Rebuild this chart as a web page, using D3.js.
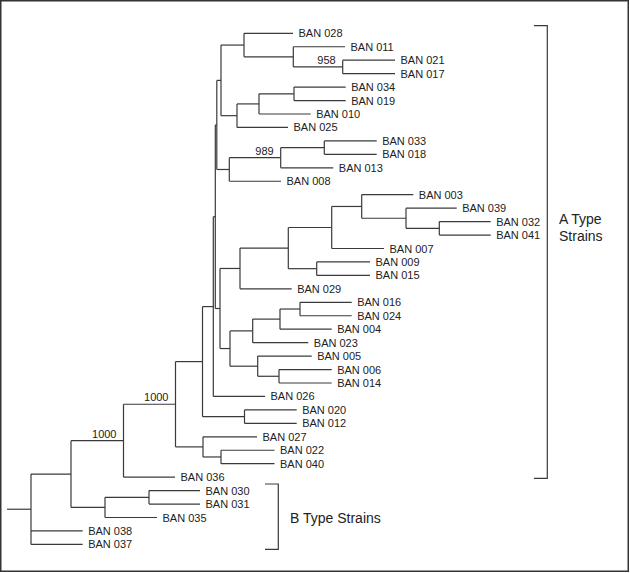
<!DOCTYPE html>
<html>
<head>
<meta charset="utf-8">
<script src="https://cdn.jsdelivr.net/npm/d3@7"></script>
<style>
  html, body { margin: 0; padding: 0; background: #fff; }
  svg { display: block; }
  text { font-family: "Liberation Sans", Arial, sans-serif; fill: #222; }
</style>
</head>
<body>
<svg id="chart" width="630" height="573"></svg>
<script>
// ---- Tree data (parent-link table, children listed in drawing order) ----
const nodeIds = [
  "root","AB","A","A2","P","Q","R","V","N1","N1a","BAN 028","N1a2","BAN 011","N958","BAN 021","BAN 017",
  "N1b","N1b1","N1b11","BAN 034","BAN 019","BAN 010","BAN 025",
  "W","N989","N33","BAN 033","BAN 018","BAN 013","BAN 008",
  "S","T","T1","T2","T2a","BAN 003","T2b","BAN 039","T2c","BAN 032","BAN 041","BAN 007",
  "T3","BAN 009","BAN 015","BAN 029",
  "U","U1","U1a","U1b","BAN 016","BAN 024","BAN 004","BAN 023",
  "U2","BAN 005","U2a","BAN 006","BAN 014",
  "BAN 026","N20","BAN 020","BAN 012",
  "N27","BAN 027","N22","BAN 022","BAN 040",
  "BAN 036","NB","NB1","BAN 030","BAN 031","BAN 035",
  "BAN 038","BAN 037"
];
const parentIds = [
  "","root","AB","A","A2","P","Q","R","V","N1","N1a","N1a","N1a2","N1a2","N958","N958",
  "N1","N1b","N1b1","N1b11","N1b11","N1b1","N1b",
  "V","W","N989","N33","N33","N989","W",
  "R","S","T","T1","T2","T2a","T2a","T2b","T2b","T2c","T2c","T2",
  "T1","T3","T3","T",
  "S","U","U1","U1a","U1b","U1b","U1a","U1",
  "U","U2","U2","U2a","U2a",
  "Q","P","N20","N20",
  "A2","N27","N27","N22","N22",
  "A","AB","NB","NB1","NB1","NB",
  "root","root"
];
const branchLengths = [
  0,40,52.5,52,27,10.8,2,1.5,4.2,23,49,49.3,51.7,49.4,52.3,52.3,
  16,22,35,51.7,51.7,51.7,51,
  12.5,51.4,43.6,52.4,52.4,52.6,51.7,
  4.7,20,48.3,43.4,30,51.6,44.3,50.7,33.3,51.4,51.4,52.3,
  28.4,53.3,53.3,51.7,
  10,22.7,27.3,20,51.7,51.7,51.7,55.6,
  27.7,54,21.3,52.7,52.7,
  51.7,42,52.2,52.2,
  27.5,54,18,53.5,53.5,
  51.5,34,44,51,51,52,
  51.7,51.7
];
const rootStem = 24;
// bootstrap support values
const bootstrapNodes  = ["A", "A2", "N958", "N989"];
const bootstrapValues = [1000, 1000, 958, 989];
// group brackets
const groupLabels = [["A Type", "Strains"], ["B Type Strains"]];
const groupFirstLeaf = ["BAN 028", "BAN 030"];
const groupLastLeaf  = ["BAN 036", "BAN 037"];

// ---- Build hierarchy ----
const table = nodeIds.map((id, i) => ({ id, parent: parentIds[i] || null, len: branchLengths[i] }));
const root = d3.stratify().id(d => d.id).parentId(d => d.parent)(table);

root.each(d => { d.dist = d.parent ? d.parent.dist + d.data.len : 0; });
const leaves = root.leaves();

const x = d3.scaleLinear().domain([0, 460]).range([31, 491]);
const y = d3.scaleLinear().domain([0, leaves.length - 1]).range([33.3, 544.4]);

leaves.forEach((l, i) => { l.py = y(i); });
root.eachAfter(d => {
  if (d.children) d.py = (d.children[0].py + d.children[d.children.length - 1].py) / 2;
});
root.each(d => { d.px = x(d.dist); });

const svg = d3.select("#chart");

// frame
svg.append("rect").attr("x", 0.75).attr("y", 0.75).attr("width", 627.5).attr("height", 570.5)
  .attr("fill", "none").attr("stroke", "#333").attr("stroke-width", 1.5);

const g = svg.append("g").attr("fill", "none").attr("stroke", "#3a3a3a").attr("stroke-width", 1.2);

// root stem
g.append("line").attr("x1", x(-rootStem)).attr("x2", root.px).attr("y1", root.py).attr("y2", root.py);

// horizontal branches
g.selectAll("line.h").data(root.descendants().filter(d => d.parent)).join("line")
  .attr("class", "h")
  .attr("x1", d => d.parent.px).attr("x2", d => d.px)
  .attr("y1", d => d.py).attr("y2", d => d.py);

// vertical connectors
g.selectAll("line.v").data(root.descendants().filter(d => d.children)).join("line")
  .attr("class", "v")
  .attr("x1", d => d.px).attr("x2", d => d.px)
  .attr("y1", d => d.children[0].py).attr("y2", d => d.children[d.children.length - 1].py);

// leaf labels
svg.selectAll("text.leaf").data(leaves).join("text")
  .attr("class", "leaf")
  .attr("x", d => d.px + 5.5).attr("y", d => d.py + 4)
  .attr("font-size", 11)
  .text(d => d.id);

// bootstrap labels
const byId = new Map(root.descendants().map(d => [d.id, d]));
bootstrapNodes.forEach((id, i) => {
  const n = byId.get(id);
  svg.append("text").attr("x", n.px - 7).attr("y", n.py - 3)
    .attr("text-anchor", "end").attr("font-size", 11).text(bootstrapValues[i]);
});

// brackets
const bracketX = [547.3, 278.3];
const tickLen = 13.3;
const topPad = [7.6, 6.6];
const botPad = [1.2, 5];
const bg = svg.append("g").attr("fill", "none").attr("stroke", "#3a3a3a").attr("stroke-width", 1.2);
groupFirstLeaf.forEach((f, i) => {
  const y1 = byId.get(f).py - topPad[i];
  const y2 = byId.get(groupLastLeaf[i]).py + botPad[i];
  const bx = bracketX[i];
  bg.append("path").attr("d", `M${bx - tickLen},${y1}H${bx}V${y2}H${bx - tickLen}`);
});
// group labels
const labA = svg.append("text").attr("x", 559).attr("y", 224).attr("font-size", 14);
labA.append("tspan").attr("x", 559).attr("y", 224).text(groupLabels[0][0]);
labA.append("tspan").attr("x", 559).attr("y", 240.7).text(groupLabels[0][1]);
svg.append("text").attr("x", 290).attr("y", 523.3).attr("font-size", 14).text(groupLabels[1][0]);
</script>
</body>
</html>
